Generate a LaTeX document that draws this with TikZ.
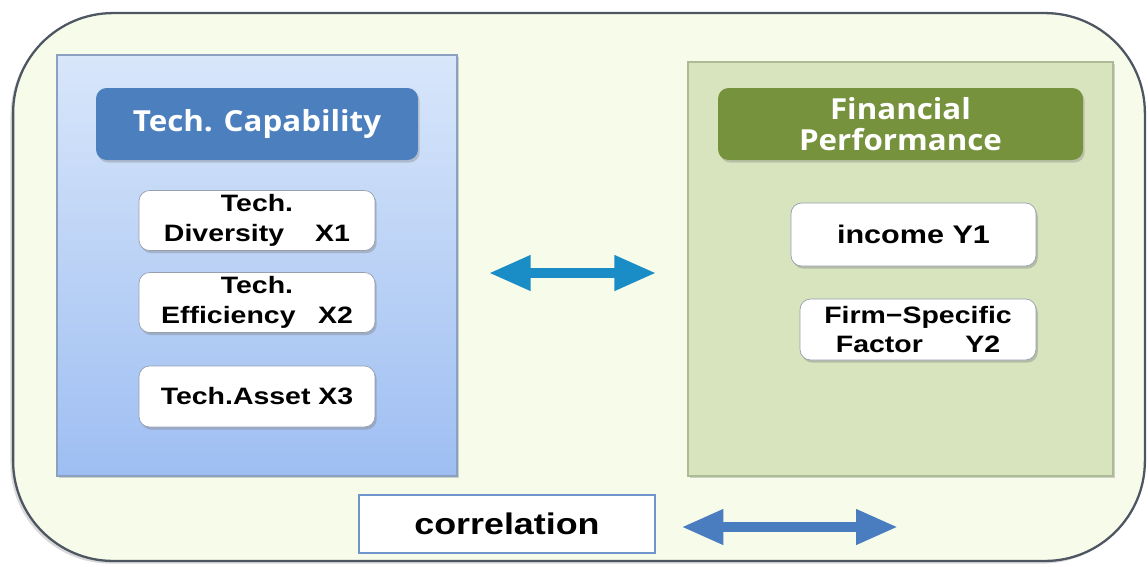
\documentclass[tikz,border=0pt]{standalone}
\usepackage{fontspec}
\setsansfont{Liberation Sans}[FakeStretch=1.2]
\newfontfamily\headfont{Open Sans}[FakeStretch=1.08]
\usepackage{tikz}
\usetikzlibrary{arrows.meta}
\usetikzlibrary{shadows}

\definecolor{outerfill}{RGB}{247,251,234}
\definecolor{outerline}{RGB}{78,86,98}
\definecolor{capatop}{RGB}{216,230,250}
\definecolor{capabot}{RGB}{158,190,242}
\definecolor{finfill}{RGB}{216,228,190}
\definecolor{capahead}{RGB}{76,127,190}
\definecolor{finhead}{RGB}{118,146,60}
\definecolor{boxline}{RGB}{150,160,176}
\definecolor{corrline}{RGB}{110,150,205}
\definecolor{tealarrow}{RGB}{27,141,198}
\definecolor{bluearrow}{RGB}{74,125,192}

\begin{document}
\begin{tikzpicture}[x=0.02cm, y=-0.02cm]
			\tikzset{panel/.style = {shape=rectangle, draw, line width=0.8pt,
					inner sep=0pt, drop shadow={shadow xshift=1pt,
					shadow yshift=-1pt, opacity=0.35}}}
			\tikzset{header/.style = {shape=rectangle, rounded corners=6pt,
					text=white, minimum height=1.44cm, inner sep=0pt, align=center,
					font=\headfont\bfseries\fontsize{16.5}{17.5}\selectfont,
					drop shadow={shadow xshift=1pt, shadow yshift=-1.5pt,
					opacity=0.35}}}
			\tikzset{item/.style = {shape=rectangle, draw=boxline, fill=white,
					rounded corners=6pt, inner sep=0pt, align=center,
					minimum width=4.72cm, minimum height=1.2cm,
					font=\sffamily\bfseries\fontsize{13.5}{17}\selectfont,
					drop shadow={shadow xshift=1pt, shadow yshift=-1.5pt,
					opacity=0.4}}}
			\tikzset{biarrow/.style = {line width=0.2cm,
					{Triangle[length=0.84cm, width=0.66cm]}-{Triangle[length=0.84cm, width=0.66cm]}}}
			
			\useasboundingbox (0,0) rectangle (1148,566);
			
			% frame
			\node[shape=rectangle, draw=outerline, line width=1.3pt, fill=outerfill,
				rounded corners=2cm, minimum width=22.64cm, minimum height=10.96cm,
				drop shadow={shadow xshift=-1.5pt, shadow yshift=-1.5pt, opacity=0.3}]
				(frame) at (579,287) {};
			
			% panels
			\node[panel, draw={rgb,255:red,140;green,160;blue,192},
				top color=capatop, bottom color=capabot,
				minimum width=8cm, minimum height=8.42cm] (capa) at (257,265.5) {};
			\node[panel, draw={rgb,255:red,172;green,186;blue,150}, fill=finfill,
				minimum width=8.5cm, minimum height=8.28cm] (fin) at (900.5,269) {};
			
			% vertices
			\node[header, fill=capahead, minimum width=6.44cm] (hc) at (257,124)
				{Tech. Capability};
			\node[header, fill=finhead, minimum width=7.3cm] (hf) at (900.5,124)
				{Financial\\Performance};
			
			\node[item] (x1) at (257,220.5) {Tech.\\Diversity\hspace{0.62cm}X1};
			\node[item] (x2) at (257,302.5) {Tech.\\Efficiency\hspace{0.45cm}X2};
			\node[item, minimum height=1.22cm] (x3) at (257,396.5) {Tech.Asset X3};
			
			\node[item, minimum width=4.9cm, minimum height=1.26cm,
				font=\sffamily\bfseries\fontsize{14.5}{17}\selectfont] (y1) at (913.5,234.5)
				{income Y1};
			\node[item, minimum height=1.22cm] (y2) at (918,329.5)
				{Firm−Specific\\Factor\hspace{0.85cm}Y2};
			
			\node[shape=rectangle, draw=corrline, line width=1.6pt, fill=white,
				minimum width=5.92cm, minimum height=1.16cm, inner sep=0pt,
				font=\sffamily\bfseries\fontsize{17}{19}\selectfont]
				(corr) at (507,524) {correlation};
			
			%edges
			\coordinate (mid) at (572,273);
			\coordinate (end) at (898,527);
			\draw[biarrow, tealarrow, shorten <=0.62cm, shorten >=0.62cm]
				(capa.east |- mid) -- (fin.west |- mid);
			\draw[biarrow, bluearrow, shorten <=0.5cm] (corr.east |- end) -- (end);
			
\end{tikzpicture}
\end{document}
